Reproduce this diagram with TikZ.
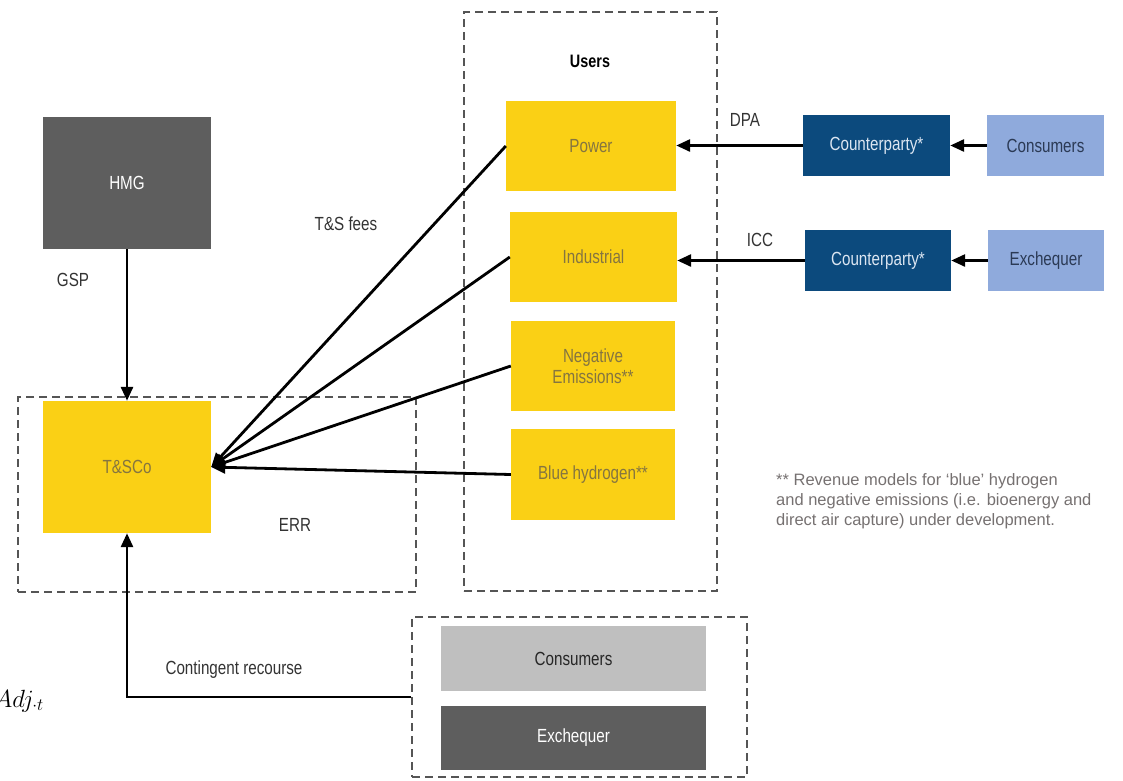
\documentclass[tikz,border=0pt]{standalone}
\usepackage{fontspec}
\setmainfont{Liberation Sans}
\newfontfamily\narrowfont[FakeStretch=0.8]{Liberation Sans}
\usetikzlibrary{arrows.meta}
\definecolor{ygold}{HTML}{FAD015}
\definecolor{ytext}{HTML}{857540}
\definecolor{dgray}{HTML}{5E5E5E}
\definecolor{lgray}{HTML}{BFBFBF}
\definecolor{dblue}{HTML}{0C4A7D}
\definecolor{lblue}{HTML}{8FAADC}
\definecolor{lbtext}{HTML}{2B3A55}
\definecolor{dbtext}{HTML}{DCE6F2}
\definecolor{labtext}{HTML}{333333}
\definecolor{notetext}{HTML}{767171}
\definecolor{dashcol}{HTML}{555555}
\tikzset{
  box/.style={draw=none, inner sep=0pt, align=center, font=\narrowfont\fontsize{19}{21}\selectfont},
  ybox/.style={box, fill=ygold, text=ytext},
  graybox/.style={box, fill=dgray, text=white},
  lgraybox/.style={box, fill=lgray, text=black!85},
  dbluebox/.style={box, fill=dblue, text=dbtext},
  lbluebox/.style={box, fill=lblue, text=lbtext},
  dashbox/.style={draw=dashcol, line width=1.8pt, dash pattern=on 8pt off 5pt, inner sep=0pt},
  lab/.style={text=labtext, font=\narrowfont\fontsize{19}{21}\selectfont},
  arr/.style={line width=2.8pt, -{Triangle[length=14pt,width=12pt]}}
}
\begin{document}
\begin{tikzpicture}[x=1pt,y=-1pt]
\useasboundingbox (0,0) rectangle (1123,780);
% dashed groups
\node[dashbox, minimum width=398pt, minimum height=195pt] (errbox) at (217,494.5) {};
\node[dashbox, minimum width=253pt, minimum height=579pt] (usersbox) at (590.5,301.5) {};
\node[dashbox, minimum width=335pt, minimum height=160pt] (botbox) at (579.5,697) {};
% boxes
\node[graybox, minimum width=168pt, minimum height=132pt] (hmg) at (127,183) {HMG};
\node[ybox, minimum width=168pt, minimum height=132pt] (tsco) at (127,467) {T\&SCo};
\node[ybox, minimum width=170pt, minimum height=90pt] (power) at (591,146) {Power};
\node[ybox, minimum width=167pt, minimum height=90pt] (industrial) at (593.5,257) {Industrial};
\node[ybox, minimum width=164pt, minimum height=90pt] (negem) at (593,366) {Negative\\Emissions**};
\node[ybox, minimum width=164pt, minimum height=91pt] (blueh) at (593,474.5) {Blue hydrogen**};
\node[dbluebox, minimum width=147pt, minimum height=61pt] (cp1) at (876.5,145.5) {Counterparty*};
\node[lbluebox, minimum width=117pt, minimum height=61pt] (cons1) at (1045.5,145.5) {Consumers};
\node[dbluebox, minimum width=146pt, minimum height=61pt] (cp2) at (878,260.5) {Counterparty*};
\node[lbluebox, minimum width=116pt, minimum height=61pt] (exch1) at (1046,260.5) {Exchequer};
\node[lgraybox, minimum width=265pt, minimum height=65pt] (cons2) at (573.5,658.5) {Consumers};
\node[graybox, minimum width=265pt, minimum height=64pt] (exch2) at (573.5,738) {Exchequer};
% labels
\node[lab, font=\narrowfont\bfseries\fontsize{18}{20}\selectfont, text=black] (users) at (590,61) {Users};
\node[lab] (gsp) at (73,280) {GSP};
\node[lab] (tsfees) at (346,224) {T\&S fees};
\node[lab] (dpa) at (745,120) {DPA};
\node[lab] (icc) at (760,240) {ICC};
\node[lab] (err) at (295,525) {ERR};
\node[lab] (cr) at (234,670) {Contingent recourse};
\node[anchor=east, inner sep=0pt, font=\fontsize{24}{26}\selectfont] (adj) at (44,701) {$Adj_{\cdot t}$};
\node[anchor=north west, inner sep=0pt, align=left, text=notetext,
      font=\fontsize{16.5}{20}\selectfont] (note) at (776,473)
  {** Revenue models for ‘blue’ hydrogen\\and negative emissions (i.e. bioenergy and\\direct air capture) under development.};
% connectors
\draw[arr] (hmg.south) -- (tsco.north);
\draw[arr] (power.west) -- (tsco.east);
\draw[arr] (industrial.west) -- (tsco.east);
\draw[arr] (negem.west) -- (tsco.east);
\draw[arr] (blueh.west) -- (tsco.east);
\draw[arr] (cp1.west) -- (cp1.west -| power.east);
\draw[arr] (cons1.west) -- (cp1.east);
\draw[arr] (cp2.west) -- (cp2.west -| industrial.east);
\draw[arr] (exch1.west) -- (cp2.east);
\draw[arr] (botbox.west) -| (tsco.south);
\end{tikzpicture}
\end{document}
